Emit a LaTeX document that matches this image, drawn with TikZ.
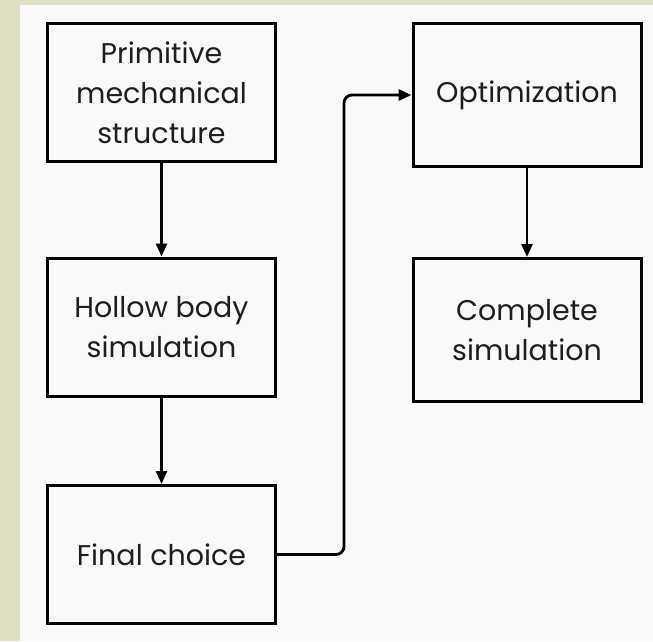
\documentclass[tikz,border=0pt]{standalone}
\usepackage{fontspec}
\setmainfont{Poppins}
\usetikzlibrary{arrows.meta}
\definecolor{frame}{HTML}{DFDFC5}
\definecolor{bg}{HTML}{F9F9F9}
\definecolor{txt}{HTML}{1E1E1E}
\tikzset{
  box/.style={draw=black, line width=3pt, fill=bg, text=txt, align=center,
    minimum width=228pt, font=\fontsize{28.5}{40}\selectfont, inner sep=0pt},
  conn/.style={line width=2.8pt, -{Triangle[length=13pt,width=11pt]}}
}
\begin{document}
\begin{tikzpicture}[x=1pt,y=1pt]
\fill[frame] (0,0) rectangle (653,-641);
\fill[bg] (20,-5) rectangle (653,-641);
\useasboundingbox (0,0) rectangle (653,-641);
\node[box, minimum height=138pt] (b1) at (161.5,-92.5) {Primitive\\mechanical\\structure};
\node[box, minimum height=138pt] (b2) at (161.5,-327) {Hollow body\\simulation};
\node[box, minimum height=138pt] (b3) at (161.5,-554.5) {Final choice};
\node[box, minimum height=143pt] (b4) at (527,-95) {Optimization};
\node[box, minimum height=143pt] (b5) at (527,-330) {Complete\\simulation};
\draw[conn] (b1) -- (b2);
\draw[conn] (b2) -- (b3);
\draw[conn] (b4) -- (b5);
\draw[conn, rounded corners=8pt] (b3.east) -- (344,-554.5) -- (344,-95) -- (b4.west);
\end{tikzpicture}
\end{document}
